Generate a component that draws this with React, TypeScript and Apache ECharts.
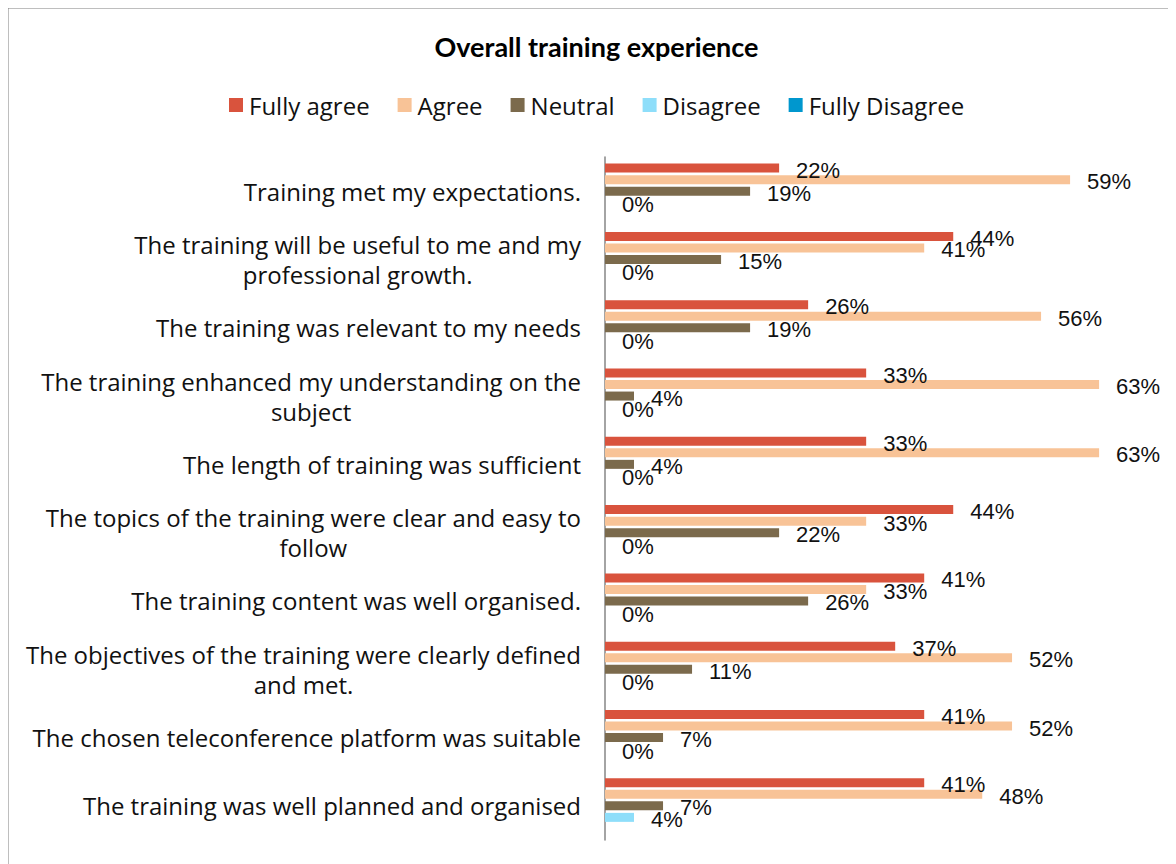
import React, { useEffect, useRef } from "react";
import * as echarts from "echarts";

const TITLE = "Overall training experience";

const CATEGORIES = [
  "Training met my expectations.",
  "The training will be useful to me and my\nprofessional growth.",
  "The training was relevant to my needs",
  "The training enhanced my understanding on the\nsubject",
  "The length of training was sufficient",
  "The topics of the training were clear and easy to\nfollow",
  "The training content was well organised.",
  "The objectives of the training were clearly defined\nand met.",
  "The chosen teleconference platform was suitable",
  "The training was well planned and organised",
];

const SERIES_NAMES = ["Fully agree", "Agree", "Neutral", "Disagree", "Fully Disagree"];
const SERIES_COLORS = ["#D9533D", "#F8C397", "#7B6A4C", "#8EDEFA", "#0097CE"];

const FULLY_AGREE = [22.2, 44.4, 25.9, 33.3, 33.3, 44.4, 40.7, 37.0, 40.7, 40.7];
const AGREE = [59.3, 40.7, 55.6, 63.0, 63.0, 33.3, 33.3, 51.9, 51.9, 48.1];
const NEUTRAL = [18.5, 14.8, 18.5, 3.7, 3.7, 22.2, 25.9, 11.1, 7.4, 7.4];
const DISAGREE = [0, 0, 0, 0, 0, 0, 0, 0, 0, 3.7];
const FULLY_DISAGREE = [0, 0, 0, 0, 0, 0, 0, 0, 0, 0];

const SERIES_DATA = [FULLY_AGREE, AGREE, NEUTRAL, DISAGREE, FULLY_DISAGREE];
const SHOW_LABELS = [true, true, true, true, false];

const AXIS_MAX = 70;

const CAT_FONT = "Open Sans";
const CAT_SIZE = 24;

export default function App() {
  const ref = useRef<HTMLDivElement>(null);

  useEffect(() => {
    if (!ref.current) return;
    const chart = echarts.init(ref.current, undefined, { renderer: "svg" });

    const series = SERIES_NAMES.map((name, i) => ({
      name,
      type: "bar",
      data: SERIES_DATA[i],
      barWidth: 9,
      barGap: "28%",
      itemStyle: { color: SERIES_COLORS[i] },
      label: {
        show: SHOW_LABELS[i],
        position: "right",
        distance: 17,
        offset: [0, 2],
        fontFamily: "Liberation Sans",
        fontSize: 22,
        color: "#111",
        formatter: (p: any) => Math.round(p.value) + "%",
      },
    }));

    chart.setOption({
      animation: false,
      backgroundColor: "#ffffff",
      graphic: [
        {
          type: "line",
          shape: { x1: 0, y1: 0.75, x2: 1169, y2: 0.75 },
          style: { stroke: "#7f7f7f", lineWidth: 1.5 },
        },
        {
          type: "line",
          shape: { x1: 0.75, y1: 0, x2: 0.75, y2: 857 },
          style: { stroke: "#7f7f7f", lineWidth: 1.5 },
        },
        {
          type: "text",
          x: 589.5,
          y: 39,
          style: {
            text: TITLE,
            align: "center",
            verticalAlign: "middle",
            fontFamily: "Lato",
            fontWeight: "bold",
            fontSize: 27,
            fill: "#000",
          },
        },
      ],
      legend: {
        data: SERIES_NAMES,
        left: 222,
        top: 86,
        padding: 0,
        icon: "rect",
        itemWidth: 14,
        itemHeight: 14,
        itemGap: 28,
        textStyle: {
          fontFamily: CAT_FONT,
          fontSize: CAT_SIZE,
          color: "#111",
          padding: [0, 0, 0, 1],
        },
      },
      grid: { left: 598, top: 150, bottom: 24, right: 22 },
      xAxis: {
        type: "value",
        min: 0,
        max: AXIS_MAX,
        interval: 10,
        show: false,
        splitLine: { show: false },
      },
      yAxis: {
        type: "category",
        data: CATEGORIES,
        inverse: true,
        axisTick: { show: false },
        axisLine: { show: true, lineStyle: { color: "#868686", width: 1.5 } },
        axisLabel: {
          margin: 24,
          formatter: (v: string) =>
            v
              .split("\n")
              .map((l) => `{c|${l}}`)
              .join("\n"),
          rich: {
            c: {
              align: "center",
              fontFamily: CAT_FONT,
              fontSize: CAT_SIZE,
              lineHeight: 30,
              color: "#111",
            },
          },
        },
      },
      series,
    });

    return () => chart.dispose();
  }, []);

  return (
    <div
      ref={ref}
      style={{ width: 1169, height: 857, marginLeft: -1, marginTop: -1 }}
    />
  );
}
